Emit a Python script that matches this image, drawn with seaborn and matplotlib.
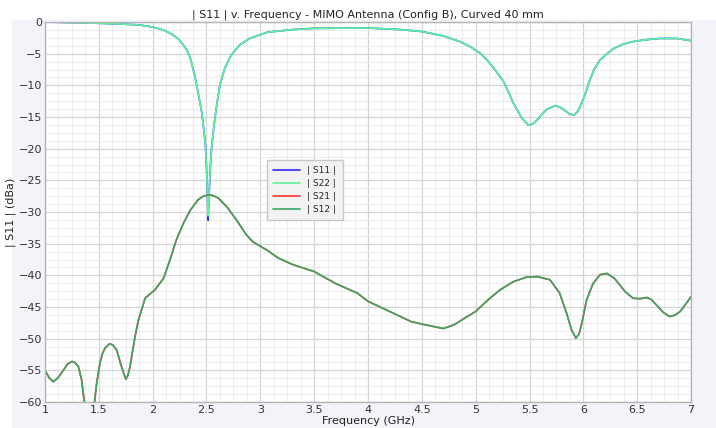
import numpy as np
import pandas as pd
import matplotlib
matplotlib.use("Agg")
import matplotlib.pyplot as plt
from matplotlib.patches import Rectangle
from matplotlib.ticker import MultipleLocator
import seaborn as sns

# reflection curve (S11 / S22)
freq_refl = [1.0, 1.25, 1.5, 1.75, 1.88, 2.0, 2.07, 2.13, 2.19, 2.24, 2.285, 2.32,
             2.35, 2.39, 2.42, 2.455, 2.477, 2.49, 2.50, 2.51, 2.515, 2.52, 2.53,
             2.54, 2.55, 2.57, 2.595, 2.625, 2.67, 2.73, 2.81, 2.9, 3.07, 3.3, 3.5,
             4.0, 4.3, 4.5, 4.7, 4.855, 4.95, 5.04, 5.1, 5.16, 5.26, 5.35, 5.43,
             5.49, 5.53, 5.57, 5.62, 5.66, 5.74, 5.79, 5.83, 5.87, 5.91, 5.94,
             5.97, 6.01, 6.06, 6.1, 6.155, 6.22, 6.28, 6.37, 6.46, 6.58, 6.71,
             6.87, 7.0]
s11 = [0.0, -0.1, -0.2, -0.35, -0.47, -0.8, -1.1, -1.5, -2.05, -2.7, -3.6, -4.5,
       -5.7, -8.4, -11.0, -14.2, -17.3, -19.4, -23.0, -28.0, -31.3, -29.0, -25.0,
       -21.5, -19.4, -16.3, -13.1, -9.9, -7.3, -5.2, -3.6, -2.6, -1.6, -1.2, -1.0,
       -0.95, -1.2, -1.5, -2.2, -3.1, -3.9, -4.9, -5.9, -7.1, -9.4, -12.8, -15.2,
       -16.3, -16.1, -15.5, -14.5, -13.8, -13.2, -13.5, -14.0, -14.5, -14.7, -14.3,
       -13.4, -11.7, -9.2, -7.5, -6.0, -5.0, -4.2, -3.5, -3.1, -2.8, -2.6,
       -2.6, -2.95]
s22 = list(s11)
s22[freq_refl.index(2.515)] = -30.6
s22[freq_refl.index(2.51)] = -27.5

# coupling curve (S21 / S12)
freq_coup = [1.0, 1.04, 1.077, 1.12, 1.17, 1.21, 1.25, 1.28, 1.31, 1.34, 1.365, 1.41,
             1.46, 1.48, 1.51, 1.535, 1.557, 1.6, 1.63, 1.666, 1.71, 1.75, 1.77, 1.79,
             1.81, 1.836, 1.867, 1.9, 1.93, 2.02, 2.10, 2.16, 2.22, 2.285, 2.35, 2.42,
             2.47, 2.52, 2.56, 2.61, 2.69, 2.78, 2.87, 2.93, 3.06, 3.17, 3.3, 3.5, 3.7,
             3.9, 4.0, 4.2, 4.4, 4.5, 4.7, 4.8, 5.0, 5.12, 5.226, 5.35, 5.47, 5.57,
             5.69, 5.78, 5.845, 5.89, 5.93, 5.96, 5.985, 6.03, 6.09, 6.155, 6.22,
             6.29, 6.39, 6.46, 6.52, 6.59, 6.63, 6.68, 6.74, 6.80, 6.85, 6.90, 7.0]
s21 = [-55.0, -56.2, -56.8, -56.2, -55.0, -54.0, -53.6, -53.8, -54.4, -56.5, -60.0, -63.0,
       -60.0, -57.0, -53.9, -52.3, -51.5, -50.8, -51.0, -51.8, -54.4, -56.4, -55.8, -54.4,
       -52.3, -49.7, -47.1, -45.3, -43.6, -42.3, -40.5, -37.6, -34.4, -31.8, -29.7, -28.1,
       -27.5, -27.3, -27.4, -27.8, -29.2, -31.3, -33.6, -34.7, -36.0, -37.3, -38.3, -39.4, -41.3,
       -42.8, -44.1, -45.7, -47.3, -47.7, -48.4, -47.8, -45.7, -43.8, -42.3, -41.0, -40.3, -40.2,
       -40.7, -42.8, -46.0, -48.6, -49.9, -49.3, -47.6, -43.9, -41.3, -39.9, -39.7,
       -40.5, -42.6, -43.6, -43.7, -43.5, -43.8, -44.7, -45.8, -46.5, -46.3, -45.7, -43.4]
s12 = list(s21)

series_names = ["| S11 |", "| S22 |", "| S21 |", "| S12 |"]
series_colors = ["#2b2bff", "#5cf59a", "#ff3030", "#3aa865"]

sns.set_style("whitegrid")
plt.rcParams['font.family'] = ['DejaVu Sans']

fig = plt.figure(figsize=(7.16, 4.28), dpi=100)
fig.patch.set_facecolor("white")
fig.patches.append(Rectangle((12 / 716, 0), 1, 408 / 428, transform=fig.transFigure,
                             facecolor="#f3f3fa", edgecolor="none", zorder=-10))
ax = fig.add_axes([45 / 716, 26 / 428, 646 / 716, 380 / 428])
ax.set_facecolor("white")

data = [(freq_refl, s11), (freq_refl, s22), (freq_coup, s21), (freq_coup, s12)]
for (fx, fy), name, col in zip(data, series_names, series_colors):
    df = pd.DataFrame({"f": fx, "v": fy})
    sns.lineplot(data=df, x="f", y="v", ax=ax, color=col, linewidth=1.2, label=name)

ax.set_xlim(1, 7)
ax.set_ylim(-60, 0)
ax.xaxis.set_major_locator(MultipleLocator(0.5))
ax.xaxis.set_minor_locator(MultipleLocator(0.125))
ax.yaxis.set_major_locator(MultipleLocator(5))
ax.yaxis.set_minor_locator(MultipleLocator(1.25))
ax.set_xticklabels([f"{t:g}" for t in ax.get_xticks()])
ax.grid(which="major", color="#d4d4d4", linewidth=0.9)
ax.grid(which="minor", color="#ececec", linewidth=0.7)
ax.tick_params(labelsize=8, colors="#333333", length=0, pad=2)
for sp in ax.spines.values():
    sp.set_color("#b5b5b5")
    sp.set_linewidth(1.0)

ax.set_title("| S11 | v. Frequency - MIMO Antenna (Config B), Curved 40 mm",
             fontsize=8, color="#222222", pad=3)
ax.set_xlabel("Frequency (GHz)", fontsize=8, color="#222222", labelpad=1)
ax.set_ylabel("| S11 | (dBa)", fontsize=8, color="#222222", labelpad=2)

leg = ax.legend(loc="upper left", bbox_to_anchor=(0.336, 0.65), fontsize=6.5,
                frameon=True, fancybox=False, handlelength=3, borderpad=0.7,
                labelspacing=0.45)
leg.get_frame().set_facecolor("#f2f2f2")
leg.get_frame().set_edgecolor("#c8c8c8")
leg.get_frame().set_alpha(1)

fig.savefig("out.png", dpi=100, facecolor=fig.get_facecolor())
